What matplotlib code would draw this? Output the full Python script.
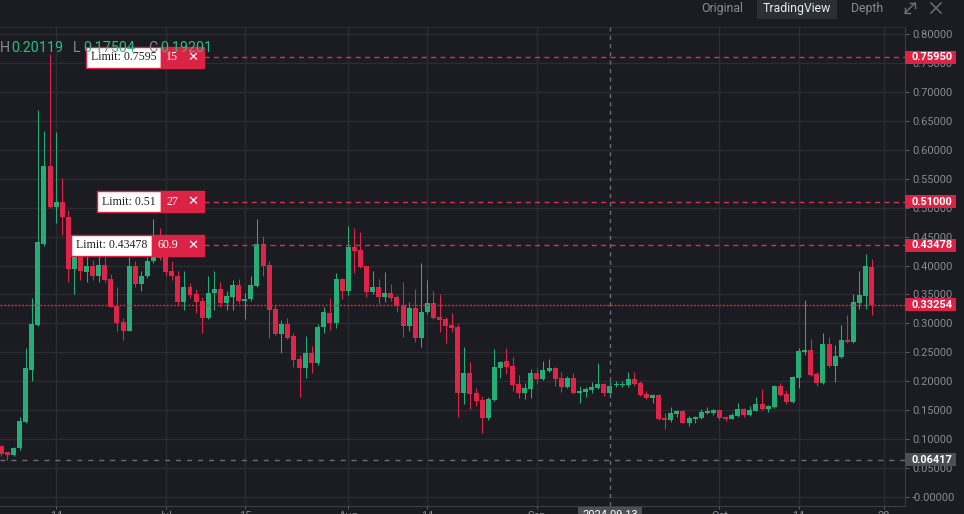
import matplotlib
matplotlib.use("Agg")
import matplotlib.pyplot as plt
import matplotlib.transforms as mtransforms
from matplotlib.patches import Rectangle
from matplotlib.lines import Line2D

plt.rcParams['font.family'] = ['Roboto', 'DejaVu Sans']

# ---- data ----
opens = [0.088, 0.077, 0.073, 0.084, 0.130, 0.219, 0.297, 0.438, 0.572, 0.501,
         0.509, 0.484, 0.394, 0.415, 0.389, 0.400, 0.382, 0.401, 0.377, 0.330,
         0.302, 0.287, 0.400, 0.368, 0.381, 0.407, 0.419, 0.414, 0.390, 0.382,
         0.337, 0.362, 0.351, 0.339, 0.309, 0.353, 0.360, 0.335, 0.346, 0.366,
         0.339, 0.342, 0.365, 0.437, 0.401, 0.325, 0.282, 0.299, 0.278, 0.238,
         0.223, 0.249, 0.232, 0.293, 0.318, 0.301, 0.377, 0.356, 0.432, 0.427,
         0.399, 0.354, 0.363, 0.346, 0.353, 0.346, 0.332, 0.295, 0.327, 0.275,
         0.320, 0.335, 0.311, 0.308, 0.297, 0.294, 0.180, 0.214, 0.180, 0.168,
         0.137, 0.168, 0.223, 0.235, 0.226, 0.195, 0.180, 0.187, 0.214, 0.204,
         0.218, 0.223, 0.206, 0.190, 0.206, 0.180, 0.181, 0.185, 0.188, 0.195,
         0.180, 0.193, 0.194, 0.194, 0.204, 0.197, 0.178, 0.171, 0.176, 0.137,
         0.133, 0.144, 0.149, 0.128, 0.135, 0.137, 0.146, 0.145, 0.150, 0.138,
         0.135, 0.140, 0.152, 0.142, 0.149, 0.161, 0.152, 0.156, 0.192, 0.178,
         0.164, 0.206, 0.250, 0.254, 0.213, 0.197, 0.264, 0.226, 0.242, 0.271,
         0.268, 0.335, 0.347, 0.397]
highs = [0.089, 0.078, 0.087, 0.139, 0.257, 0.344, 0.669, 0.633, 0.765, 0.630,
         0.552, 0.496, 0.430, 0.425, 0.417, 0.410, 0.417, 0.417, 0.385, 0.363,
         0.310, 0.415, 0.407, 0.390, 0.415, 0.480, 0.464, 0.423, 0.408, 0.390,
         0.390, 0.369, 0.360, 0.345, 0.382, 0.390, 0.371, 0.356, 0.375, 0.376,
         0.352, 0.382, 0.480, 0.451, 0.407, 0.332, 0.306, 0.310, 0.284, 0.246,
         0.278, 0.261, 0.299, 0.329, 0.343, 0.387, 0.379, 0.468, 0.465, 0.458,
         0.400, 0.390, 0.377, 0.389, 0.368, 0.349, 0.371, 0.337, 0.359, 0.404,
         0.375, 0.356, 0.351, 0.311, 0.318, 0.299, 0.259, 0.233, 0.188, 0.175,
         0.172, 0.256, 0.235, 0.257, 0.242, 0.211, 0.197, 0.221, 0.223, 0.235,
         0.238, 0.225, 0.216, 0.209, 0.214, 0.192, 0.190, 0.199, 0.232, 0.197,
         0.201, 0.201, 0.201, 0.216, 0.216, 0.200, 0.183, 0.178, 0.178, 0.145,
         0.156, 0.151, 0.150, 0.140, 0.140, 0.152, 0.156, 0.152, 0.152, 0.140,
         0.145, 0.162, 0.154, 0.157, 0.173, 0.187, 0.159, 0.194, 0.197, 0.185,
         0.209, 0.257, 0.340, 0.273, 0.216, 0.283, 0.276, 0.263, 0.297, 0.314,
         0.351, 0.391, 0.420, 0.411]
lows = [0.071, 0.064, 0.071, 0.082, 0.127, 0.201, 0.295, 0.433, 0.499, 0.473,
        0.453, 0.372, 0.350, 0.375, 0.372, 0.375, 0.372, 0.372, 0.328, 0.287,
        0.271, 0.286, 0.363, 0.356, 0.378, 0.405, 0.410, 0.381, 0.375, 0.330,
        0.323, 0.343, 0.318, 0.284, 0.307, 0.323, 0.328, 0.323, 0.323, 0.335,
        0.308, 0.338, 0.362, 0.382, 0.274, 0.280, 0.249, 0.273, 0.225, 0.172,
        0.205, 0.214, 0.228, 0.284, 0.288, 0.292, 0.342, 0.349, 0.387, 0.395,
        0.346, 0.351, 0.333, 0.337, 0.339, 0.320, 0.276, 0.287, 0.268, 0.259,
        0.316, 0.308, 0.285, 0.266, 0.285, 0.138, 0.161, 0.152, 0.157, 0.111,
        0.133, 0.166, 0.206, 0.213, 0.183, 0.171, 0.169, 0.171, 0.195, 0.202,
        0.216, 0.192, 0.181, 0.188, 0.178, 0.162, 0.173, 0.180, 0.187, 0.175,
        0.175, 0.190, 0.190, 0.190, 0.192, 0.175, 0.169, 0.162, 0.133, 0.118,
        0.130, 0.138, 0.127, 0.123, 0.128, 0.135, 0.144, 0.142, 0.133, 0.131,
        0.134, 0.139, 0.138, 0.140, 0.148, 0.151, 0.147, 0.154, 0.174, 0.161,
        0.162, 0.188, 0.245, 0.209, 0.192, 0.196, 0.225, 0.199, 0.240, 0.266,
        0.266, 0.325, 0.325, 0.314]
closes = [0.074, 0.073, 0.085, 0.131, 0.223, 0.299, 0.441, 0.572, 0.501, 0.509,
          0.483, 0.394, 0.415, 0.390, 0.400, 0.381, 0.401, 0.375, 0.329, 0.301,
          0.287, 0.400, 0.368, 0.382, 0.408, 0.417, 0.413, 0.389, 0.381, 0.337,
          0.362, 0.349, 0.337, 0.309, 0.353, 0.360, 0.335, 0.347, 0.366, 0.339,
          0.342, 0.366, 0.437, 0.400, 0.323, 0.282, 0.299, 0.275, 0.237, 0.223,
          0.249, 0.232, 0.294, 0.320, 0.301, 0.377, 0.356, 0.432, 0.425, 0.397,
          0.354, 0.363, 0.346, 0.353, 0.344, 0.330, 0.295, 0.327, 0.275, 0.320,
          0.335, 0.309, 0.306, 0.295, 0.292, 0.180, 0.214, 0.178, 0.166, 0.137,
          0.169, 0.225, 0.233, 0.225, 0.193, 0.180, 0.188, 0.214, 0.204, 0.219,
          0.223, 0.204, 0.190, 0.206, 0.180, 0.183, 0.187, 0.190, 0.195, 0.180,
          0.192, 0.195, 0.196, 0.204, 0.195, 0.176, 0.171, 0.176, 0.135, 0.133,
          0.145, 0.149, 0.128, 0.137, 0.138, 0.147, 0.147, 0.150, 0.137, 0.135,
          0.142, 0.152, 0.142, 0.150, 0.161, 0.152, 0.157, 0.192, 0.176, 0.164,
          0.207, 0.252, 0.254, 0.211, 0.197, 0.264, 0.226, 0.244, 0.271, 0.268,
          0.337, 0.349, 0.399, 0.3325]

price_ticks = [0.0, 0.05, 0.10, 0.15, 0.20, 0.25, 0.30, 0.35, 0.40,
               0.45, 0.50, 0.55, 0.60, 0.65, 0.70, 0.75, 0.80]
time_ticks = [9, 27, 40, 57, 70, 88, 118, 131, 145]
time_labels = ["14", "Jul", "15", "Aug", "14", "Sep", "Oct", "14", "28"]

order_prices = [0.7595, 0.51, 0.43478]
order_texts = ["Limit: 0.7595", "Limit: 0.51", "Limit: 0.43478"]
order_qty = ["15", "27", "60.9"]
last_price = 0.33254
cross_price = 0.06417
cross_index = 100
cross_date = "2024-09-13"
header_keys = ["H", "L", "C"]
header_vals = ["0.20119", "0.17504", "0.19201"]
tabs = ["Original", "TradingView", "Depth"]

# ---- style ----
BG = '#1b1c21'
GRID = '#2a2c32'
AXLINE = '#3b3e45'
TXT = '#868b94'
UP = '#25ad78'
DOWN = '#dd2449'
LABEL_RED = '#dc2346'

W, H = 964, 514
fig = plt.figure(figsize=(W / 100, H / 100), dpi=100, facecolor=BG)
ax = fig.add_axes([0, (H - 506) / H, 905 / W, (506 - 27) / H])
ax.set_facecolor(BG)
ax.set_xlim(-1.33 / 6.086, (905 - 1.33) / 6.086)
ax.set_ylim(-0.01555, 0.8121)
PX = (0.8121 + 0.01555) / 479.0  # price per pixel

for s in ['left', 'top']:
    ax.spines[s].set_visible(False)
ax.spines['right'].set_color(AXLINE)
ax.spines['bottom'].set_color(AXLINE)
ax.spines['top'].set_visible(True)
ax.spines['top'].set_color(GRID)

for t in price_ticks:
    ax.axhline(t, color=GRID, lw=1, zorder=0)
for t in time_ticks:
    ax.axvline(t, color=GRID, lw=1, zorder=0)

# ticks
ax.yaxis.tick_right()
ax.set_yticks(price_ticks)
ax.set_yticklabels(["-0.00000" if t == 0 else f"{t:.5f}" for t in price_ticks])
ax.tick_params(axis='y', length=2.9, width=0.7, color='#5d6067', pad=2.3,
               labelcolor=TXT, labelsize=7.9)
ax.set_xticks(time_ticks)
ax.set_xticklabels(time_labels)
ax.tick_params(axis='x', length=2.2, width=0.7, color='#5d6067', pad=1.5,
               labelcolor=TXT, labelsize=7.9)

# candles
xs = list(range(len(opens)))
cols = [UP if c >= o else DOWN for o, c in zip(opens, closes)]
ax.vlines(xs, lows, highs, colors=cols, lw=0.75, zorder=2)
bottoms = [min(o, c) for o, c in zip(opens, closes)]
heights = [max(abs(c - o), 0.0018) for o, c in zip(opens, closes)]
ax.bar(xs, heights, bottom=bottoms, width=0.82, color=cols, lw=0, zorder=3)

ax_bl = mtransforms.blended_transform_factory(ax.transAxes, ax.transData)
fig_bl = mtransforms.blended_transform_factory(fig.transFigure, ax.transData)

# horizontal level lines
for p in order_prices:
    ax.plot([204 / 905, 1], [p, p], transform=ax_bl, color='#d6334f', lw=1,
            dashes=(3.6, 3.2), zorder=4)
ax.axhline(last_price, color='#e8203f', lw=1, dashes=(1.5, 1.1), zorder=4)
ax.axhline(cross_price, color='#6a6d73', lw=1, dashes=(3.6, 4.3), zorder=4)
ax.axvline(cross_index, color='#6a6d73', lw=1, dashes=(3.0, 3.0), zorder=4)

# order labels
white_left = [86, 97, 71]
split_x = [161, 161, 152]
for p, txt, q, wl, sx in zip(order_prices, order_texts, order_qty, white_left, split_x):
    bh = 21 * PX
    ax.add_patch(Rectangle((wl / 905, p - bh / 2), (sx - wl) / 905, bh, transform=ax_bl,
                           facecolor='white', edgecolor=LABEL_RED, lw=1, zorder=6))
    ax.add_patch(Rectangle((sx / 905, p - bh / 2), (204 - sx) / 905, bh, transform=ax_bl,
                           facecolor=LABEL_RED, edgecolor=LABEL_RED, lw=1, zorder=6))
    ax.text((wl + sx) / 2 / 905, p, txt, transform=ax_bl, ha='center', va='center',
            fontsize=8.6, family='Liberation Serif', color='#222222', zorder=7)
    ax.text((sx + 183) / 2 / 905, p, q, transform=ax_bl, ha='center', va='center',
            fontsize=8.6, family='Liberation Serif', color='white', zorder=7)
    ax.text(193 / 905, p, "\u2715", transform=ax_bl, ha='center', va='center',
            fontsize=9.5, family='DejaVu Sans', color='white', zorder=7)

# right price labels
def price_box(p, face):
    fig.add_artist(Rectangle((905 / W, p - 6.5 * PX), 51 / W, 13 * PX, transform=fig_bl,
                             facecolor=face, edgecolor='none', zorder=5))
    fig.text(912 / W, p, f"{p:.5f}", transform=fig_bl, ha='left', va='center',
             fontsize=7.9, color='white', weight='bold', zorder=6)

for p in order_prices:
    price_box(p, LABEL_RED)
price_box(last_price, LABEL_RED)
price_box(cross_price, '#4d4f55')

# crosshair date label at bottom
fig.add_artist(Rectangle((578 / W, 0), 64 / W, (H - 507) / H, transform=fig.transFigure,
                         facecolor='#4d4f55', edgecolor='none', zorder=5))
fig.text(610 / W, 1 - 509.5 / H, cross_date, ha='center', va='top', fontsize=7.9,
         color='white', zorder=6)

# header OHLC text
key_x = [0, 73, 148]
val_x = [11, 83, 160]
for k, v, kx, vx in zip(header_keys, header_vals, key_x, val_x):
    fig.text(kx / W, 1 - 48 / H, k, ha='left', va='center', fontsize=10.3, color=TXT, zorder=8)
    fig.text(vx / W, 1 - 48 / H, v, ha='left', va='center', fontsize=10.3, color='#2dbd83', zorder=8)

# top tab bar
fig.add_artist(Rectangle((757 / W, 1 - 19 / H), 80 / W, 19 / H, transform=fig.transFigure,
                         facecolor='#2b2f36', edgecolor='none', zorder=5))
tab_x = [722, 797, 867]
tab_col = [TXT, '#eaecef', TXT]
for t, tx, tc in zip(tabs, tab_x, tab_col):
    fig.text(tx / W, 1 - 8.5 / H, t, ha='center', va='center', fontsize=8.8, color=tc, zorder=6)


def fig_line(pts, color=TXT, lw=1.0):
    fig.add_artist(Line2D([p[0] / W for p in pts], [1 - p[1] / H for p in pts],
                          transform=fig.transFigure, color=color, lw=lw, zorder=6))


# expand icon
fig_line([(905, 13), (915, 3)], color='#6f747c')
fig_line([(910, 3), (915, 3), (915, 8)], color='#6f747c')
fig_line([(905, 8), (905, 13), (910, 13)], color='#6f747c')
# close icon
fig_line([(931, 3), (941, 13)], color='#6f747c')
fig_line([(931, 13), (941, 3)], color='#6f747c')

fig.savefig('out.png', dpi=100, facecolor=BG)
